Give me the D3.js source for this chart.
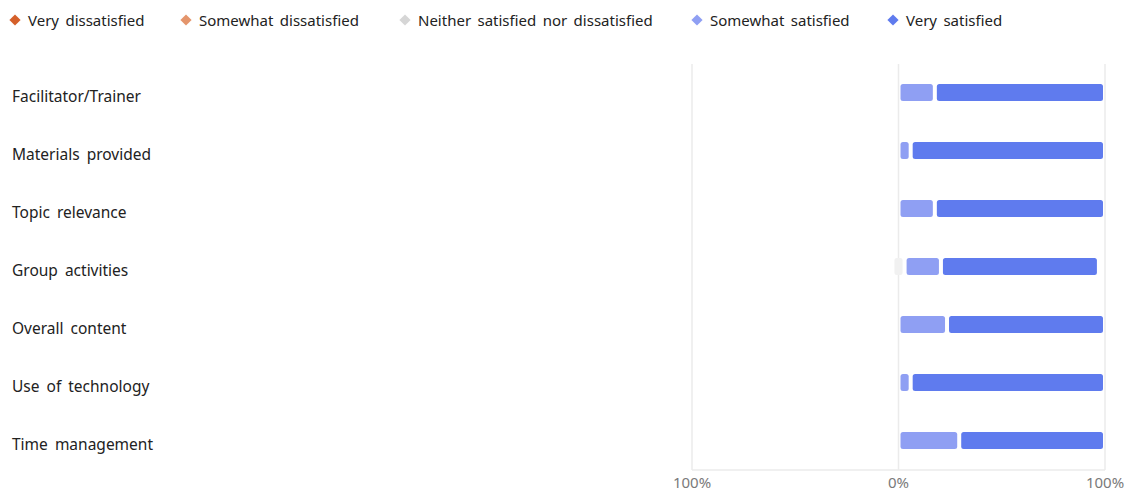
<!DOCTYPE html>
<html>
<head>
<meta charset="utf-8">
<script src="https://cdn.jsdelivr.net/npm/d3@7/dist/d3.min.js"></script>
<style>
  html, body { margin: 0; padding: 0; background: #fff; }
  svg { display: block; font-family: "Noto Sans", "Open Sans", sans-serif; }
</style>
</head>
<body>
<svg id="chart" width="1128" height="491"></svg>
<script>
// Survey items and share of responses (%) per answer
const categories = [
  "Facilitator/Trainer",
  "Materials provided",
  "Topic relevance",
  "Group activities",
  "Overall content",
  "Use of technology",
  "Time management"
];
const veryDissatisfied     = [0, 0, 0, 0, 0, 0, 0];
const somewhatDissatisfied = [0, 0, 0, 0, 0, 0, 0];
const neitherSatisfied     = [0, 0, 0, 5.9, 0, 0, 0];
const somewhatSatisfied    = [17.6, 5.9, 17.6, 17.6, 23.5, 5.9, 29.4];
const verySatisfied        = [82.4, 94.1, 82.4, 76.5, 76.5, 94.1, 70.6];

const axisTicks = [-100, 0, 100];
const axisTickLabels = ["100%", "0%", "100%"];

const legendLabels = [
  "Very dissatisfied",
  "Somewhat dissatisfied",
  "Neither satisfied nor dissatisfied",
  "Somewhat satisfied",
  "Very satisfied"
];
const legendColors = ["#d5602a", "#e4956c", "#d6d6d6", "#8f9ff3", "#5f7bee"];
const neitherBarColor = "#f1f1f1";

const svg = d3.select("#chart");

const x = d3.scaleLinear().domain([-100, 100]).range([692, 1105]);
const y = d3.scaleBand().domain(categories).range([64, 470]).paddingInner(0).paddingOuter(0);
const barH = 17;

// grid lines
const grid = svg.append("g");
grid.selectAll("line.v").data(axisTicks).join("line")
  .attr("x1", d => x(d)).attr("x2", d => x(d))
  .attr("y1", 64).attr("y2", 470)
  .attr("stroke", "#ebebeb").attr("stroke-width", 1.5);
grid.append("line")
  .attr("x1", x(-100)).attr("x2", x(100))
  .attr("y1", 470).attr("y2", 470)
  .attr("stroke", "#ebebeb").attr("stroke-width", 1.5);

// axis labels
svg.append("g").selectAll("text").data(axisTicks).join("text")
  .attr("x", d => x(d)).attr("y", 488)
  .attr("text-anchor", "middle")
  .attr("font-size", 15).attr("fill", "#7a7a7a")
  .text((d, i) => axisTickLabels[i]);

// build diverging segments
const rows = categories.map((c, i) => {
  const n = neitherSatisfied[i];
  const segs = [];
  let left = -n / 2;
  // negative side grows outward from the neutral half
  segs.push({ key: 2, x0: -n / 2, x1: n / 2 });
  segs.push({ key: 1, x0: left - somewhatDissatisfied[i], x1: left });
  left -= somewhatDissatisfied[i];
  segs.push({ key: 0, x0: left - veryDissatisfied[i], x1: left });
  let right = n / 2;
  segs.push({ key: 3, x0: right, x1: right + somewhatSatisfied[i] });
  right += somewhatSatisfied[i];
  segs.push({ key: 4, x0: right, x1: right + verySatisfied[i] });
  return { c, segs: segs.filter(s => s.x1 - s.x0 > 0) };
});

const inset = 2;
const rowG = svg.append("g").selectAll("g").data(rows).join("g")
  .attr("transform", d => `translate(0,${y(d.c) + y.bandwidth() / 2 - barH / 2 - 0.5})`);

rowG.selectAll("rect").data(d => d.segs).join("rect")
  .attr("x", s => x(s.x0) + inset)
  .attr("width", s => Math.max(0, x(s.x1) - x(s.x0) - inset * 2))
  .attr("y", 0).attr("height", barH)
  .attr("rx", 2.5)
  .attr("fill", s => s.key === 2 ? neitherBarColor : legendColors[s.key]);

// category labels
svg.append("g").selectAll("text").data(categories).join("text")
  .attr("x", 12)
  .attr("y", d => y(d) + y.bandwidth() / 2 + 5)
  .attr("dominant-baseline", "middle")
  .attr("font-size", 15.5).attr("word-spacing", 3).attr("fill", "#222")
  .text(d => d);

// legend
const legendX = [15, 186, 405, 697, 893];
const leg = svg.append("g").selectAll("g").data(legendLabels).join("g")
  .attr("transform", (d, i) => `translate(${legendX[i]},20)`);
leg.append("path")
  .attr("d", d3.symbol(d3.symbolDiamond2, 80))
  .attr("fill", (d, i) => legendColors[i]);
leg.append("text")
  .attr("x", 13).attr("y", 2)
  .attr("dominant-baseline", "middle")
  .attr("font-size", 15).attr("word-spacing", 2.5).attr("fill", "#222")
  .text(d => d);
</script>
</body>
</html>
